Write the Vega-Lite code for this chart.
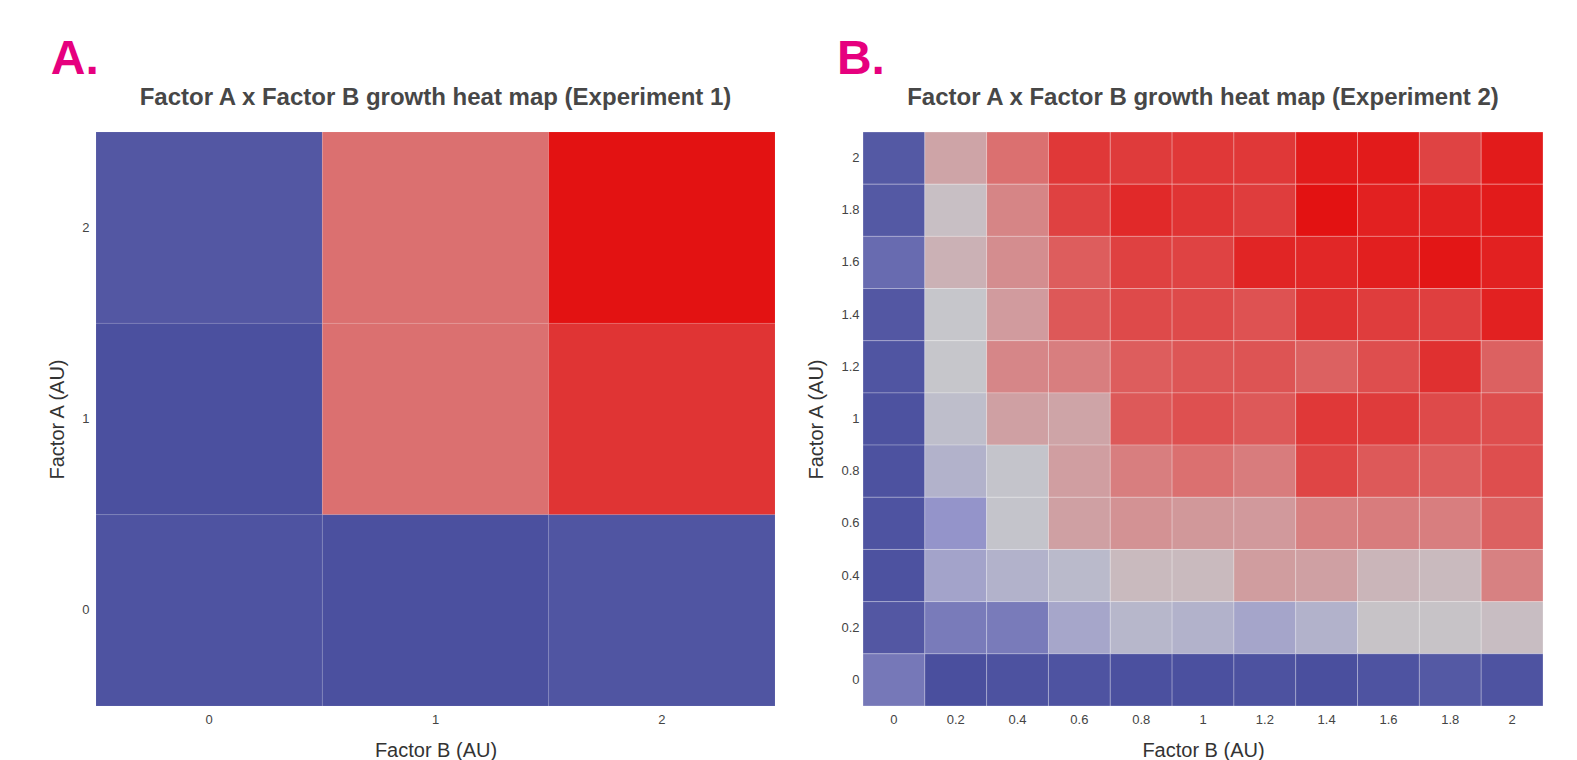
{
  "$schema": "https://vega.github.io/schema/vega-lite/v6.json",
  "background": "white",
  "padding": {"left": 47, "top": 35, "right": 5, "bottom": 5},
  "spacing": 30,
  "datasets": {
    "expA": [
      {"a": 2, "b": 0, "g": -0.94}, {"a": 2, "b": 1, "g": 0.5}, {"a": 2, "b": 2, "g": 1.0},
      {"a": 1, "b": 0, "g": -0.99}, {"a": 1, "b": 1, "g": 0.5}, {"a": 1, "b": 2, "g": 0.82},
      {"a": 0, "b": 0, "g": -0.97}, {"a": 0, "b": 1, "g": -0.99}, {"a": 0, "b": 2, "g": -0.96}
    ],
    "expB": [
      {"a": 2, "b": 0, "g": -0.93}, {"a": 2, "b": 0.2, "g": 0.2}, {"a": 2, "b": 0.4, "g": 0.5}, {"a": 2, "b": 0.6, "g": 0.8}, {"a": 2, "b": 0.8, "g": 0.78}, {"a": 2, "b": 1, "g": 0.8}, {"a": 2, "b": 1.2, "g": 0.8}, {"a": 2, "b": 1.4, "g": 0.95}, {"a": 2, "b": 1.6, "g": 0.95}, {"a": 2, "b": 1.8, "g": 0.74}, {"a": 2, "b": 2, "g": 0.95},
      {"a": 1.8, "b": 0, "g": -0.93}, {"a": 1.8, "b": 0.2, "g": 0.04}, {"a": 1.8, "b": 0.4, "g": 0.38}, {"a": 1.8, "b": 0.6, "g": 0.75}, {"a": 1.8, "b": 0.8, "g": 0.88}, {"a": 1.8, "b": 1, "g": 0.82}, {"a": 1.8, "b": 1.2, "g": 0.77}, {"a": 1.8, "b": 1.4, "g": 1.0}, {"a": 1.8, "b": 1.6, "g": 0.92}, {"a": 1.8, "b": 1.8, "g": 0.92}, {"a": 1.8, "b": 2, "g": 0.95},
      {"a": 1.6, "b": 0, "g": -0.8}, {"a": 1.6, "b": 0.2, "g": 0.12}, {"a": 1.6, "b": 0.4, "g": 0.33}, {"a": 1.6, "b": 0.6, "g": 0.6}, {"a": 1.6, "b": 0.8, "g": 0.75}, {"a": 1.6, "b": 1, "g": 0.74}, {"a": 1.6, "b": 1.2, "g": 0.9}, {"a": 1.6, "b": 1.4, "g": 0.89}, {"a": 1.6, "b": 1.6, "g": 0.93}, {"a": 1.6, "b": 1.8, "g": 0.98}, {"a": 1.6, "b": 2, "g": 0.92},
      {"a": 1.4, "b": 0, "g": -0.94}, {"a": 1.4, "b": 0.2, "g": 0.0}, {"a": 1.4, "b": 0.4, "g": 0.25}, {"a": 1.4, "b": 0.6, "g": 0.63}, {"a": 1.4, "b": 0.8, "g": 0.7}, {"a": 1.4, "b": 1, "g": 0.7}, {"a": 1.4, "b": 1.2, "g": 0.66}, {"a": 1.4, "b": 1.4, "g": 0.83}, {"a": 1.4, "b": 1.6, "g": 0.77}, {"a": 1.4, "b": 1.8, "g": 0.76}, {"a": 1.4, "b": 2, "g": 0.92},
      {"a": 1.2, "b": 0, "g": -0.96}, {"a": 1.2, "b": 0.2, "g": 0.0}, {"a": 1.2, "b": 0.4, "g": 0.37}, {"a": 1.2, "b": 0.6, "g": 0.42}, {"a": 1.2, "b": 0.8, "g": 0.6}, {"a": 1.2, "b": 1, "g": 0.64}, {"a": 1.2, "b": 1.2, "g": 0.65}, {"a": 1.2, "b": 1.4, "g": 0.58}, {"a": 1.2, "b": 1.6, "g": 0.68}, {"a": 1.2, "b": 1.8, "g": 0.84}, {"a": 1.2, "b": 2, "g": 0.58},
      {"a": 1, "b": 0, "g": -0.98}, {"a": 1, "b": 0.2, "g": -0.08}, {"a": 1, "b": 0.4, "g": 0.22}, {"a": 1, "b": 0.6, "g": 0.2}, {"a": 1, "b": 0.8, "g": 0.62}, {"a": 1, "b": 1, "g": 0.67}, {"a": 1, "b": 1.2, "g": 0.62}, {"a": 1, "b": 1.4, "g": 0.8}, {"a": 1, "b": 1.6, "g": 0.78}, {"a": 1, "b": 1.8, "g": 0.7}, {"a": 1, "b": 2, "g": 0.68},
      {"a": 0.8, "b": 0, "g": -0.98}, {"a": 0.8, "b": 0.2, "g": -0.2}, {"a": 0.8, "b": 0.4, "g": -0.02}, {"a": 0.8, "b": 0.6, "g": 0.23}, {"a": 0.8, "b": 0.8, "g": 0.42}, {"a": 0.8, "b": 1, "g": 0.5}, {"a": 0.8, "b": 1.2, "g": 0.43}, {"a": 0.8, "b": 1.4, "g": 0.73}, {"a": 0.8, "b": 1.6, "g": 0.62}, {"a": 0.8, "b": 1.8, "g": 0.6}, {"a": 0.8, "b": 2, "g": 0.68},
      {"a": 0.6, "b": 0, "g": -0.97}, {"a": 0.6, "b": 0.2, "g": -0.5}, {"a": 0.6, "b": 0.4, "g": -0.02}, {"a": 0.6, "b": 0.6, "g": 0.22}, {"a": 0.6, "b": 0.8, "g": 0.3}, {"a": 0.6, "b": 1, "g": 0.27}, {"a": 0.6, "b": 1.2, "g": 0.26}, {"a": 0.6, "b": 1.4, "g": 0.4}, {"a": 0.6, "b": 1.6, "g": 0.43}, {"a": 0.6, "b": 1.8, "g": 0.42}, {"a": 0.6, "b": 2, "g": 0.58},
      {"a": 0.4, "b": 0, "g": -0.98}, {"a": 0.4, "b": 0.2, "g": -0.35}, {"a": 0.4, "b": 0.4, "g": -0.2}, {"a": 0.4, "b": 0.6, "g": -0.12}, {"a": 0.4, "b": 0.8, "g": 0.07}, {"a": 0.4, "b": 1, "g": 0.07}, {"a": 0.4, "b": 1.2, "g": 0.24}, {"a": 0.4, "b": 1.4, "g": 0.22}, {"a": 0.4, "b": 1.6, "g": 0.1}, {"a": 0.4, "b": 1.8, "g": 0.07}, {"a": 0.4, "b": 2, "g": 0.4},
      {"a": 0.2, "b": 0, "g": -0.94}, {"a": 0.2, "b": 0.2, "g": -0.68}, {"a": 0.2, "b": 0.4, "g": -0.68}, {"a": 0.2, "b": 0.6, "g": -0.32}, {"a": 0.2, "b": 0.8, "g": -0.15}, {"a": 0.2, "b": 1, "g": -0.2}, {"a": 0.2, "b": 1.2, "g": -0.33}, {"a": 0.2, "b": 1.4, "g": -0.2}, {"a": 0.2, "b": 1.6, "g": 0.02}, {"a": 0.2, "b": 1.8, "g": 0.02}, {"a": 0.2, "b": 2, "g": 0.05},
      {"a": 0, "b": 0, "g": -0.7}, {"a": 0, "b": 0.2, "g": -1.0}, {"a": 0, "b": 0.4, "g": -0.98}, {"a": 0, "b": 0.6, "g": -0.97}, {"a": 0, "b": 0.8, "g": -0.99}, {"a": 0, "b": 1, "g": -0.99}, {"a": 0, "b": 1.2, "g": -0.98}, {"a": 0, "b": 1.4, "g": -1.0}, {"a": 0, "b": 1.6, "g": -0.97}, {"a": 0, "b": 1.8, "g": -0.93}, {"a": 0, "b": 2, "g": -0.97}
    ]
  },
  "hconcat": [
    {
      "title": {"text": "A.", "anchor": "start", "frame": "bounds", "font": "Liberation Sans", "fontSize": 48, "fontWeight": "bold", "color": "#e6007e", "offset": 2, "dx": 3},
      "hconcat": [
        {
          "data": {"name": "expA"},
          "width": 679,
          "height": 574,
          "title": {"text": "Factor A x Factor B growth heat map (Experiment 1)", "anchor": "middle", "font": "Liberation Sans", "fontSize": 24, "fontWeight": "bold", "color": "#474747", "offset": 22},
          "mark": {"type": "rect", "stroke": "#ffffff", "strokeWidth": 1, "strokeOpacity": 0.08},
          "encoding": {
            "x": {"field": "b", "type": "ordinal", "title": "Factor B (AU)", "scale": {"paddingInner": 0, "paddingOuter": 0}},
            "y": {"field": "a", "type": "ordinal", "sort": "descending", "title": "Factor A (AU)", "scale": {"paddingInner": 0, "paddingOuter": 0}},
            "color": {"field": "g", "type": "quantitative", "legend": null, "scale": {"domain": [-1, -0.5, 0, 0.5, 1], "range": ["#4a4f9e", "#9494ca", "#c6c6cb", "#db7070", "#e31212"], "interpolate": "rgb"}}
          }
        }
      ]
    },
    {
      "title": {"text": "B.", "anchor": "start", "frame": "bounds", "font": "Liberation Sans", "fontSize": 48, "fontWeight": "bold", "color": "#e6007e", "offset": 2, "dx": 30},
      "hconcat": [
        {
          "data": {"name": "expB"},
          "width": 680,
          "height": 574,
          "title": {"text": "Factor A x Factor B growth heat map (Experiment 2)", "anchor": "middle", "font": "Liberation Sans", "fontSize": 24, "fontWeight": "bold", "color": "#474747", "offset": 22},
          "mark": {"type": "rect", "stroke": "#ffffff", "strokeWidth": 1, "strokeOpacity": 0.25},
          "encoding": {
            "x": {"field": "b", "type": "ordinal", "title": "Factor B (AU)", "scale": {"paddingInner": 0, "paddingOuter": 0}},
            "y": {"field": "a", "type": "ordinal", "sort": "descending", "title": "Factor A (AU)", "scale": {"paddingInner": 0, "paddingOuter": 0}, "axis": {"labelPadding": 4}},
            "color": {"field": "g", "type": "quantitative", "legend": null, "scale": {"domain": [-1, -0.5, 0, 0.5, 1], "range": ["#4a4f9e", "#9494ca", "#c6c6cb", "#db7070", "#e31212"], "interpolate": "rgb"}}
          }
        }
      ]
    }
  ],
  "config": {
    "view": {"stroke": null},
    "axis": {
      "ticks": false,
      "domain": false,
      "grid": false,
      "labelAngle": 0,
      "labelFont": "Liberation Sans",
      "labelFontSize": 13,
      "labelColor": "#444444",
      "labelPadding": 7,
      "titleFont": "Liberation Sans",
      "titleFontSize": 20,
      "titleFontWeight": "normal",
      "titleColor": "#333333",
      "titlePadding": 14
    }
  }
}
